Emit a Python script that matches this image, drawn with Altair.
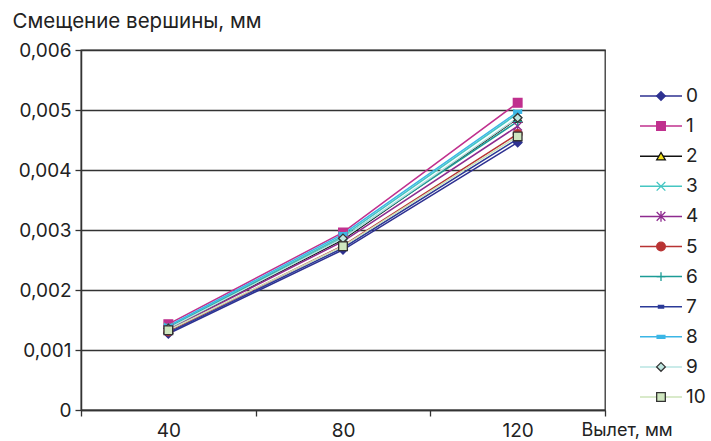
import altair as alt
import pandas as pd

series = ["0", "1", "2", "3", "4", "5", "6", "7", "8", "9", "10"]
x_cats = ["40", "80", "120"]
v40 = [0.00127, 0.00143, 0.00135, 0.00138, 0.00134, 0.00131, 0.00137, 0.00129, 0.00140, 0.00136, 0.00133]
v80 = [0.00267, 0.00296, 0.00284, 0.00290, 0.00281, 0.00274, 0.00287, 0.00270, 0.00293, 0.00286, 0.00273]
v120 = [0.00446, 0.00512, 0.00486, 0.00494, 0.00473, 0.00460, 0.00481, 0.00452, 0.00497, 0.00487, 0.00456]

line_colors = ["#2e3191", "#c0308e", "#111111", "#45c6c2", "#8e2b8f", "#b83333",
               "#1c9c96", "#2b3a98", "#3bb6e6", "#b9e4e2", "#cde3b8"]
fill_colors = ["#2e3191", "#c0308e", "#f4e21a", "transparent", "transparent", "#b83333",
               "transparent", "#2b3a98", "#3bb6e6", "#bfe6e0", "#cfe6bf"]
stroke_colors = ["#2e3191", "#c0308e", "#111111", "#45c6c2", "#8e2b8f", "#b83333",
                 "#1c9c96", "#2b3a98", "#3bb6e6", "#333333", "#333333"]
shapes = ["diamond", "square", "triangle-up",
          "M-1,-1L1,1M-1,1L1,-1",
          "M-1,-1L1,1M-1,1L1,-1M0,-1.25V1.25",
          "circle",
          "M-1,0H1M0,-1V1",
          "M-0.6,-0.3H0.6V0.3H-0.6Z",
          "M-0.9,-0.35H0.9V0.35H-0.9Z",
          "diamond", "square"]

rows = []
for i, s in enumerate(series):
    for xc, vals in zip(x_cats, [v40, v80, v120]):
        rows.append({"s": s, "x": xc, "v": vals[i]})
df = pd.DataFrame(rows)
leg = pd.DataFrame({"s": series, "idx": list(range(len(series)))})

FONT = "Inter"
TXT = "#222222"

color_sc = alt.Scale(domain=series, range=line_colors)
fill_sc = alt.Scale(domain=series, range=fill_colors)
stroke_sc = alt.Scale(domain=series, range=stroke_colors)
shape_sc = alt.Scale(domain=series, range=shapes)

X = alt.X("x:N", sort=x_cats,
          scale=alt.Scale(type="band", domain=x_cats, paddingInner=0, paddingOuter=0),
          axis=alt.Axis(title="Вылет, мм", titleX=500, titleY=25, titleAlign="left",
                        titleBaseline="alphabetic", titleFontWeight="normal",
                        titleFontSize=18, titleFont=FONT, titleColor=TXT,
                        labelFontSize=19, labelFont=FONT, labelColor=TXT, labelAngle=0,
                        labelPadding=5, tickBand="extent", tickSize=6,
                        tickColor="#333333", domainColor="#333333", domainWidth=1.5,
                        tickWidth=1.3, grid=False))

Y = alt.Y("v:Q",
          scale=alt.Scale(domain=[0, 0.006], nice=False, zero=True),
          axis=alt.Axis(values=[0, 0.001, 0.002, 0.003, 0.004, 0.005, 0.006],
                        labelExpr="datum.value == 0 ? '0' : replace(format(datum.value, '.3f'), '.', ',')",
                        grid=True, gridColor="#333333", gridWidth=1.3,
                        tickSize=6, tickColor="#333333", tickWidth=1.3,
                        domainColor="#333333", domainWidth=1.5,
                        labelFontSize=19, labelFont=FONT, labelColor=TXT, labelPadding=4,
                        title="Смещение вершины, мм", titleAngle=0, titleX=-69, titleY=-23,
                        titleAlign="left", titleBaseline="alphabetic",
                        titleFontWeight="normal", titleFontSize=20.5, titleFont=FONT,
                        titleColor=TXT))

base = alt.Chart(df)
lines = base.mark_line(strokeWidth=1.5).encode(
    x=X, y=Y,
    color=alt.Color("s:N", scale=color_sc, legend=None),
)
points = base.mark_point(filled=True, size=75, strokeWidth=1.3, opacity=1).encode(
    x=X, y=Y,
    fill=alt.Fill("s:N", scale=fill_sc, legend=None),
    stroke=alt.Stroke("s:N", scale=stroke_sc, legend=None),
    shape=alt.Shape("s:N", scale=shape_sc, legend=None),
)
main = alt.layer(lines, points)

LY = alt.Y("idx:Q", scale=alt.Scale(domain=[0, 10], range=[46, 347], nice=False, zero=False), axis=None)
lbase = alt.Chart(leg)
leg_lines = lbase.mark_rule(strokeWidth=1.5).encode(
    x=alt.value(559), x2=alt.value(601), y=LY,
    color=alt.Color("s:N", scale=color_sc, legend=None),
)
leg_pts = lbase.mark_point(filled=True, size=75, strokeWidth=1.3, opacity=1).encode(
    x=alt.value(580), y=LY,
    fill=alt.Fill("s:N", scale=fill_sc, legend=None),
    stroke=alt.Stroke("s:N", scale=stroke_sc, legend=None),
    shape=alt.Shape("s:N", scale=shape_sc, legend=None),
)
leg_txt = lbase.mark_text(align="left", baseline="middle", fontSize=19, font=FONT, color=TXT).encode(
    x=alt.value(605), y=LY, text="s:N",
)
legend = alt.layer(leg_lines, leg_pts, leg_txt)

chart = alt.layer(main, legend).resolve_scale(
    y="independent"
).properties(
    width=524, height=360,
    autosize=alt.AutoSizeParams(type="none"),
    padding={"left": 81, "top": 50, "right": 106, "bottom": 31},
    background="white",
).configure_view(stroke="#333333", strokeWidth=1.3)

chart.save("out.html", embed_options={"renderer": "svg", "actions": False})
